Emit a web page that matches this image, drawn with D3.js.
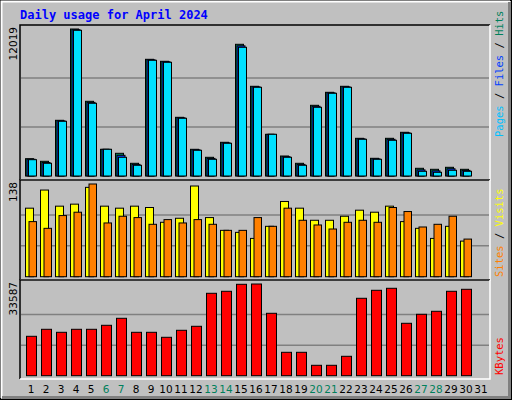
<!DOCTYPE html><html><head><script src="https://cdn.jsdelivr.net/npm/d3@7"></script>
<style>body{margin:0;background:#fff}</style></head><body><svg id="c" width="512" height="400"></svg>
<script>
const days=d3.range(1,32);
const weekend=[6,7,13,14,20,21,27,28];
const hits=[1415,1202,4554,12019,6107,2183,1856,1038,9541,9378,4799,2183,1529,2755,10768,7334,3409,1635,1038,5780,6843,7334,3082,1447,3082,3573,630,548,711,548,0];
const files=[1370,1100,4510,11960,6020,2183,1692,950,9500,9340,4760,2140,1440,2710,10640,7290,3409,1580,950,5700,6800,7290,3040,1400,3000,3530,500,420,590,460,0];
const pages=[1333,1038,4472,11912,5944,2183,1529,875,9460,9296,4718,2101,1365,2674,10523,7252,3409,1529,875,5617,6762,7252,3001,1365,2919,3491,384,303,466,384,0];
const visits=[102,129,105,108,133,105,102,105,103,81,87,135,88,69,66,57,75,112,102,84,84,90,99,96,105,82,72,57,75,53,0];
const sites=[82,72,91,96,138,80,90,88,78,85,80,85,78,69,69,88,75,102,84,77,71,81,84,81,103,97,74,78,90,56,0];
const kbytes=[14432,16997,15897,16997,16997,18462,21026,15897,15897,14066,16630,18095,30183,30916,33480,33587,22857,8571,8571,3810,3810,7106,28352,31282,32015,19194,22491,23590,30916,31648,0];
const maxHits=12019,maxVisits=138,maxK=33587;

const svg=d3.select("#c");
svg.append("rect").attr("x",0).attr("y",0).attr("width",512).attr("height",400).attr("fill","#c0c0c0");
svg.append("rect").attr("x",0.5).attr("y",0.5).attr("width",511).attr("height",399).attr("fill","none").attr("stroke","#000");
svg.append("path").attr("d","M1.5,398V1.5H510").attr("stroke","#fff").attr("stroke-width",2).attr("fill","none");
svg.append("path").attr("d","M2,397.5H509.5V2").attr("stroke","#808080").attr("stroke-width",3).attr("fill","none");
svg.append("text").attr("x",20).attr("y",19).text("Daily usage for April 2024").attr("fill","#0000ff")
 .attr("font-family","DejaVu Sans Mono").attr("font-weight","bold").attr("font-size",12);

const x=d3.scaleBand().domain(days).range([25,490]).paddingInner(0).paddingOuter(0);
const L=20,R=490;
const panels=[{t:25,b:180,y0:176,y1:29},{t:180,b:280,y0:276.7,y1:184},{t:280,b:379,y0:375.7,y1:284}];
panels.forEach(p=>{
  svg.append("rect").attr("x",L).attr("y",p.t).attr("width",R-L).attr("height",p.b-p.t).attr("fill","#c0c0c0");
  const h=(p.y0-p.y1)/3;
  [1,2].forEach(i=>svg.append("line").attr("x1",L+1).attr("x2",R-1).attr("y1",p.y0-h*i).attr("y2",p.y0-h*i).attr("stroke","#808080").attr("stroke-width",1.5));
});
panels.forEach(p=>{
  svg.append("path").attr("d",`M${L},${p.b}V${p.t}H${R}`).attr("stroke","#000").attr("stroke-width",1.5).attr("fill","none");
  svg.append("path").attr("d",`M${L},${p.b}H${R}V${p.t}`).attr("stroke","#fff").attr("stroke-width",1.5).attr("fill","none");
});
const y1=d3.scaleLinear().domain([0,maxHits]).range([176,29]);
const y2=d3.scaleLinear().domain([0,maxVisits]).range([276.7,184]);
const y3=d3.scaleLinear().domain([0,maxK]).range([375.7,284]);
function bars(data,y,off,w,color){
  svg.append("g").selectAll("rect").data(days.filter((d,i)=>data[i]>0)).join("rect")
   .attr("x",d=>x(d)+off).attr("width",w).attr("y",d=>y(data[d-1])).attr("height",d=>y(0)-y(data[d-1]))
   .attr("fill",color).attr("stroke","#000").attr("stroke-width",1);
}
bars(hits,y1,0.5,8,"#00805c");
bars(files,y1,2,8,"#0040ff");
bars(pages,y1,3.5,8,"#00e0ff");
bars(visits,y2,0.5,8,"#ffff00");
bars(sites,y2,4,7.5,"#ff8000");
bars(kbytes,y3,1.5,10,"#ff0000");

svg.append("g").selectAll("text").data(days).join("text").attr("x",d=>x(d)+x.bandwidth()/2-1.5).attr("y",393)
 .attr("text-anchor","middle").attr("font-family","DejaVu Sans").attr("font-size",10.5)
 .attr("fill",d=>weekend.includes(d)?"#00805c":"#000").text(d=>d);

function vlab(txt,xx,yy){svg.append("text").attr("transform",`translate(${xx},${yy}) rotate(-90)`).attr("text-anchor","end")
 .attr("font-family","DejaVu Sans").attr("font-size",10.5).attr("fill","#000").text(txt);}
vlab(String(maxHits),17,27);vlab(String(maxVisits),17,182);vlab(String(maxK),17,282);

function rlab(parts,yy){const t=svg.append("text").attr("transform",`translate(503,${yy}) rotate(-90)`)
 .attr("font-family","DejaVu Sans Mono").attr("font-size",10.5);
 parts.forEach(([s,c])=>t.append("tspan").attr("fill",c).text(s));}
rlab([["Pages","#00c0ff"],[" / ","#000"],["Files","#0040ff"],[" / ","#000"],["Hits","#00805c"]],137);
rlab([["Sites","#ff8000"],[" / ","#000"],["Visits","#ffff00"]],277);
rlab([["KBytes","#ff0000"]],375);
</script></body></html>
